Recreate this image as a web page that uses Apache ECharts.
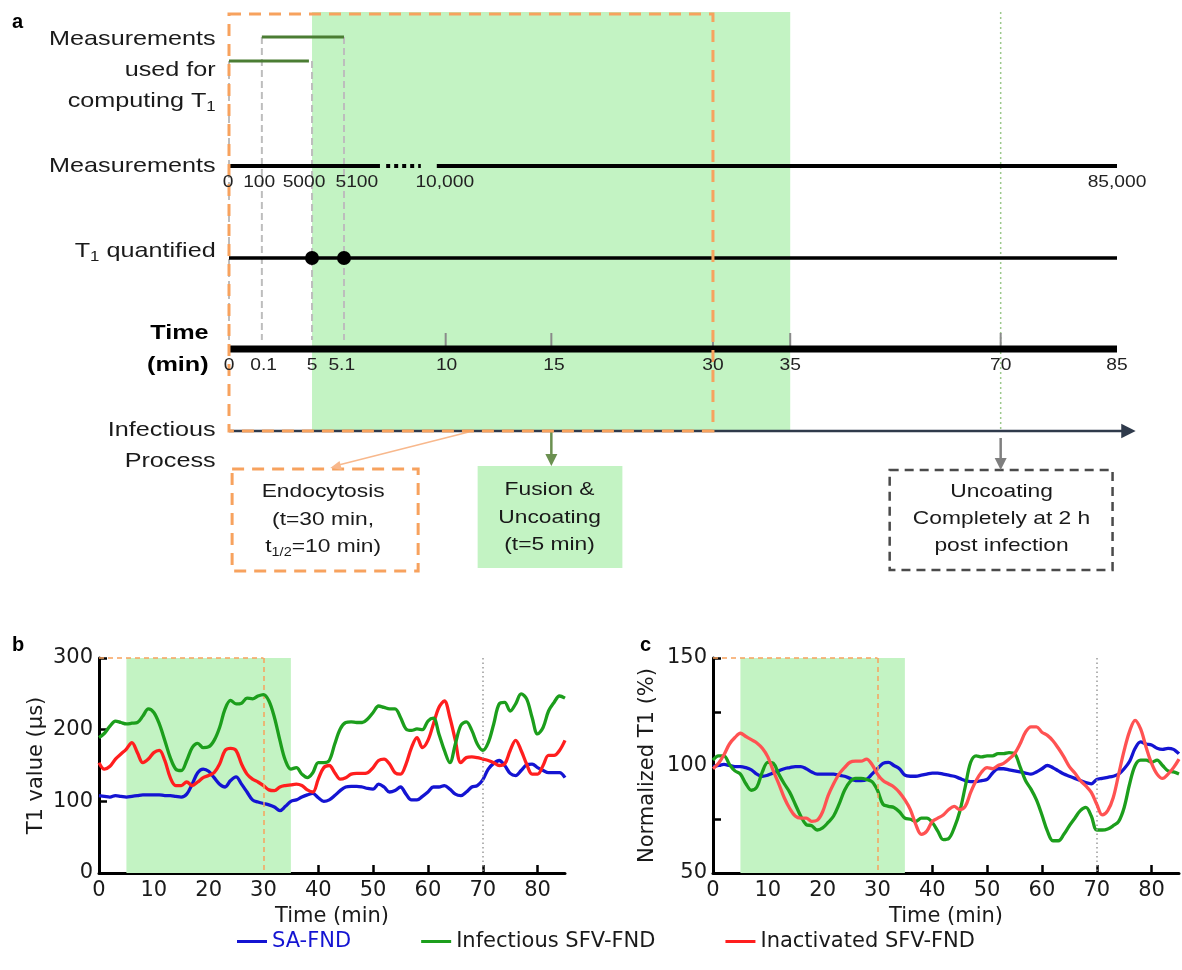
<!DOCTYPE html>
<html><head><meta charset="utf-8">
<script src="https://cdn.jsdelivr.net/npm/echarts@6/dist/echarts.min.js"></script>
<style>html,body{margin:0;padding:0;background:#fff}#c{width:1182px;height:970px}</style>
</head><body><div id="c"></div>
<script>
// ---------------- DATA ----------------
const minutes = Array.from({length: 86}, (_, i) => i);
const timeTickLabels = [0, 10, 20, 30, 40, 50, 60, 70, 80];

// Panel b: T1 value (µs)
const saT1 = [108,107,106,108,107,106,107,108,109,109,109,109,108,108,107,106,110,124,140,145,142,133,124,120,129,134,124,113,102,99,97,95,92,87,93,100,102,106,109,111,105,100,102,108,115,120,121,121,120,118,117,124,120,113,115,120,110,102,102,107,113,120,120,122,117,110,108,113,120,122,130,145,153,157,150,139,136,143,151,152,147,143,140,140,140,133];
const infT1 = [189,195,205,212,210,208,209,210,219,229,224,208,185,161,145,143,157,175,181,175,176,185,203,229,241,236,237,244,243,247,249,240,217,185,157,145,147,138,133,140,154,154,157,180,201,210,211,210,210,215,224,233,231,229,229,217,201,199,201,200,212,216,194,171,154,180,206,211,199,180,171,182,208,236,238,226,236,250,243,217,194,203,226,238,247,244];
const inaT1 = [154,145,149,159,166,173,182,168,154,159,168,171,157,133,122,122,127,122,127,133,136,140,152,171,174,171,152,138,131,127,122,116,115,120,122,123,124,122,116,113,131,147,150,140,131,133,138,139,139,140,147,157,159,152,140,138,152,175,189,175,185,208,231,240,217,185,154,161,162,161,159,157,154,150,152,171,185,171,152,138,138,150,164,164,171,185];

// Panel c: Normalized T1 (%)
const saNorm = [99.5,100,100.5,100,99.5,99.5,99,98,96,95,95.5,96.5,97.5,98.5,99,99.5,99.5,98.5,97,96,96,96,96,95.5,95,94,93,93,93.5,96,98.5,101,101.5,100,98.5,95.5,95,95,95.5,96,96.5,96.5,96,95.5,95,94,93,92.5,92.5,93,93.5,96.5,98.5,98.5,98,97.5,97,96.5,96,97,98.5,100,99,97.5,96,95,94,93,92,91.5,93.5,94,94.5,95,96,98.5,102,108,111,110,109.5,108,107.5,108,107.5,105.5];
const infNorm = [102.5,104.5,104.5,100.5,97.5,96,91.5,88.5,90,97,101.5,101,96,91.5,87.5,82,76.5,72.5,72,70,71,73.5,76.5,82,88.5,92.5,94,94,93.5,92.5,88.5,82,81,80.5,78.5,75.5,75,74,75.5,75.5,73.5,69.5,65.5,66,71,78.5,90,101.5,104.5,104,104.5,104.5,105.5,105.5,106,105.5,99.5,93,89,84,77,69.5,65,65,68,72,75.5,79,80.5,76.5,70,70,70.5,72,74,80.5,91.5,100,102.5,102.5,101.5,102.5,100,97.5,97,96];
const inaNorm = [98.5,101,105,110,113,115,113.5,112,110.5,108,104,97.5,91.5,85,80,76.5,75.5,75.5,74,74.5,78.5,86,91.5,96,99,101.5,102,102,103,100.5,96,93,91.5,90,87.5,84,79.5,72.5,68,69.5,74,75.5,77,79.5,81,79.5,81,87.5,93,97,99,98.5,100,101,103,105.5,110,115.5,118,118,115.5,114,111.5,108,104,99.5,96.5,93,90.5,87.5,82,77,79,85,96,107,116,121,117,108.5,101,96,94,96,99,103];

const seriesNames = ['SA-FND', 'Infectious SFV-FND', 'Inactivated SFV-FND'];

// Panel a: schematic timeline (positions along the schematic axis, 0..100)
const timelineLabels = ['0','0.1','5','5.1','10','15','30','35','70','85'];
const timelineSpots  = [0, 3.7, 9.35, 12.95, 24.4, 36.3, 54.5, 63.2, 86.9, 100];
const timelineLabelSpots = [0, 3.9, 9.35, 12.7, 24.5, 36.6, 54.5, 63.2, 86.9, 100];
const timelineTicked = ['10','15','30','35','70'];
const measurementLabels = ['0','100','5000','5100','10,000','85,000'];
const measurementSpots  = [-0.1, 3.4, 8.45, 14.4, 24.3, 100];
const windowSpans = [[0, 9.0], [3.7, 12.95]];      // measurement windows used for T1
const quantifiedSpots = [9.35, 12.95];              // T1 quantified points
const fusionSpan = [9.35, 63.2];                    // 5 -> 35 min
const endocytosisSpan = [0, 54.5];                  // 0 -> 30 min
const uncoatingSpot = 86.9;                         // 70 min

// ---------------- STYLE ----------------
const FONT = '"Liberation Sans", Arial, sans-serif';
const FONT_B = '"DejaVu Sans", "Liberation Sans", sans-serif';
const SX = 1.2; // horizontal stretch of the schematic's lettering
const C_BLUE = '#1414d2', C_GREEN = '#1c9e1c', C_RED = '#ff1e1e', C_RED_C = '#ff5252';
const C_FILL = '#c3f3c3', C_ORANGE = '#f7a25e';
const C_TEXT = '#1a1a1a';

const chart = echarts.init(document.getElementById('c'), null, {renderer: 'canvas'});

function valueXAxis(grid) {
  return {
    gridIndex: grid, type: 'value', min: 0, max: 85, interval: 10,
    name: 'Time (min)', nameLocation: 'middle', nameGap: 33,
    nameTextStyle: {fontSize: 21, color: C_TEXT, fontFamily: FONT_B},
    axisLine: {onZero: false, lineStyle: {color: '#000', width: 3}},
    axisTick: {inside: true, length: 8, lineStyle: {color: '#000', width: 2.5},
      customValues: timeTickLabels},
    axisLabel: {fontSize: 21, color: C_TEXT, fontFamily: FONT_B, margin: 7,
      customValues: timeTickLabels},
    splitLine: {show: false}
  };
}

function overlay(grid, yMin, yMax) {
  return {
    type: 'line', xAxisIndex: grid, yAxisIndex: grid, data: [], z: 1, silent: true,
    markArea: {silent: true, itemStyle: {color: C_FILL, opacity: 1},
      data: [[{coord: [5, yMin]}, {coord: [35, yMax]}]]},
    markLine: {silent: true, symbol: 'none', label: {show: false},
      data: [
        [{coord: [0, yMax], lineStyle: {color: C_ORANGE, type: [5, 4], width: 1.5}}, {coord: [30, yMax]}],
        [{coord: [30, yMax], lineStyle: {color: C_ORANGE, type: [5, 4], width: 1.5}}, {coord: [30, yMin]}],
        [{coord: [70, yMax], lineStyle: {color: '#9a9a9a', type: [1.5, 3], width: 1.5}}, {coord: [70, yMin]}]
      ]}
  };
}

function dataSeries(grid, name, vals, color, z) {
  return {
    type: 'line', name, xAxisIndex: grid, yAxisIndex: grid, z,
    data: minutes.map((t, i) => [t, vals[i]]),
    smooth: 0.35, showSymbol: false, symbol: 'none',
    lineStyle: {color, width: 3.3}, itemStyle: {color}
  };
}

const option = {
  animation: false,
  backgroundColor: '#fff',
  textStyle: {fontFamily: FONT_B},
  grid: [
    {left: 229, right: 65, top: 0, bottom: 0},
    {left: 99, width: 466, top: 658, height: 215},
    {left: 713, width: 466, top: 658, height: 215}
  ],
  xAxis: [
    {gridIndex: 0, type: 'value', min: 0, max: 100, show: false},
    valueXAxis(1),
    valueXAxis(2)
  ],
  yAxis: [
    {gridIndex: 0, type: 'value', min: 0, max: 970, inverse: true, show: false},
    {gridIndex: 1, type: 'value', min: 0, max: 300, interval: 100,
      name: 'T1 value (µs)', nameLocation: 'middle', nameGap: 52,
      nameTextStyle: {fontSize: 21, color: C_TEXT, fontFamily: FONT_B},
      axisLine: {show: true, onZero: false, lineStyle: {color: '#000', width: 3}},
      axisTick: {show: true, inside: true, length: 8, lineStyle: {color: '#000', width: 2.5}},
      axisLabel: {fontSize: 21, color: C_TEXT, fontFamily: FONT_B, margin: 6},
      splitLine: {show: false}},
    {gridIndex: 2, type: 'value', min: 50, max: 150, interval: 25,
      name: 'Normalized T1 (%)', nameLocation: 'middle', nameGap: 55,
      nameTextStyle: {fontSize: 21, color: C_TEXT, fontFamily: FONT_B},
      axisLine: {show: true, onZero: false, lineStyle: {color: '#000', width: 3}},
      axisTick: {show: true, inside: true, length: 8, lineStyle: {color: '#000', width: 2.5}},
      axisLabel: {fontSize: 21, color: C_TEXT, fontFamily: FONT_B, margin: 6,
        formatter: v => (v % 50 === 0 ? String(v) : '')},
      splitLine: {show: false}}
  ],
  legend: {
    top: 926, left: 232, icon: 'rect', itemWidth: 30, itemHeight: 3, itemGap: 70,
    textStyle: {fontSize: 21, color: C_TEXT, fontFamily: FONT_B},
    data: [{name: seriesNames[0], textStyle: {color: C_BLUE}}, seriesNames[1], seriesNames[2]]
  },
  series: [
    overlay(1, 0, 300),
    dataSeries(1, seriesNames[0], saT1, C_BLUE, 3),
    dataSeries(1, seriesNames[2], inaT1, C_RED, 4),
    dataSeries(1, seriesNames[1], infT1, C_GREEN, 5),
    overlay(2, 50, 150),
    dataSeries(2, seriesNames[0], saNorm, C_BLUE, 3),
    dataSeries(2, seriesNames[1], infNorm, C_GREEN, 4),
    dataSeries(2, seriesNames[2], inaNorm, C_RED_C, 5)
  ]
};
chart.setOption(option);

// ---------------- Panel a (schematic) via the hidden grid's scales ----------------
const ROW = {top: 12, box: 14, winB: 37, winA: 61, meas: 166, measLbl: 183, t1: 258, gridBottom: 340,
             tickTop: 333, time: 349, timeLbl: 366, proc: 431};
const P = (x, y) => chart.convertToPixel({gridIndex: 0}, [x, y]);
const g = [];
function seg(x1, y1, x2, y2, style, z) {
  const a = P(x1, y1), b = P(x2, y2);
  g.push({type: 'line', z: z || 10, shape: {x1: a[0], y1: a[1], x2: b[0], y2: b[1]}, style});
}
function box(x1, y1, x2, y2, style, z) {
  const a = P(x1, y1), b = P(x2, y2);
  g.push({type: 'rect', z: z || 10, shape: {x: a[0], y: a[1], width: b[0] - a[0], height: b[1] - a[1]}, style});
}
function txt(x, y, text, style) {
  const a = P(x, y);
  g.push({type: 'text', z: 20, x: a[0], y: a[1], scaleX: SX,
    style: Object.assign({text, fill: C_TEXT, font: '21px ' + FONT, align: 'center', verticalAlign: 'middle'}, style)});
}
function arrowHead(x, y, dir, size, color) {
  const a = P(x, y); const s = size;
  let pts;
  if (dir === 'right') pts = [[a[0], a[1]], [a[0] - s * 1.2, a[1] - s * 0.6], [a[0] - s * 1.2, a[1] + s * 0.6]];
  else if (dir === 'down') pts = [[a[0], a[1]], [a[0] - s * 0.6, a[1] - s * 1.2], [a[0] + s * 0.6, a[1] - s * 1.2]];
  else {
    const b = P(dir[0], dir[1]);
    const dx = a[0] - b[0], dy = a[1] - b[1]; const L = Math.hypot(dx, dy); const ux = dx / L, uy = dy / L;
    pts = [[a[0], a[1]], [a[0] - ux * s * 1.2 - uy * s * 0.5, a[1] - uy * s * 1.2 + ux * s * 0.5],
           [a[0] - ux * s * 1.2 + uy * s * 0.5, a[1] - uy * s * 1.2 - ux * s * 0.5]];
  }
  g.push({type: 'polygon', z: 12, shape: {points: pts}, style: {fill: color}});
}

// shaded fusion region
box(fusionSpan[0], ROW.top, fusionSpan[1], ROW.proc, {fill: C_FILL}, 1);
// dotted green line at 70 min
seg(uncoatingSpot, ROW.top, uncoatingSpot, ROW.proc, {stroke: '#9cc98c', lineWidth: 1.5, lineDash: [2, 3]}, 2);
// grey dashed guides
[[0, ROW.winA], [3.7, ROW.winB], [9.35, ROW.winA], [12.95, ROW.winB]].forEach(([x, y]) =>
  seg(x, y, x, ROW.gridBottom, {stroke: '#bdbdbd', lineWidth: 2, lineDash: [7, 4]}, 3));
// measurement windows
seg(windowSpans[0][0], ROW.winA, windowSpans[0][1], ROW.winA, {stroke: '#4b7d33', lineWidth: 3}, 5);
seg(windowSpans[1][0], ROW.winB, windowSpans[1][1], ROW.winB, {stroke: '#4b7d33', lineWidth: 3}, 5);
// measurements row
seg(0, ROW.meas, 17.0, ROW.meas, {stroke: '#000', lineWidth: 4}, 5);
seg(17.7, ROW.meas, 21.6, ROW.meas, {stroke: '#000', lineWidth: 4, lineDash: [4, 4]}, 5);
seg(23.4, ROW.meas, 100, ROW.meas, {stroke: '#000', lineWidth: 4}, 5);
measurementLabels.forEach((l, i) => txt(measurementSpots[i], ROW.measLbl, l, {font: '16px ' + FONT, fill: '#222'}));
// T1 quantified row
seg(0, ROW.t1, 100, ROW.t1, {stroke: '#000', lineWidth: 3.5}, 5);
quantifiedSpots.forEach(x => { const a = P(x, ROW.t1);
  g.push({type: 'circle', z: 8, shape: {cx: a[0], cy: a[1], r: 7}, style: {fill: '#000'}}); });
// time axis
timelineLabels.forEach((l, i) => {
  if (timelineTicked.includes(l)) seg(timelineSpots[i], ROW.tickTop, timelineSpots[i], ROW.time - 3, {stroke: '#8a8a8a', lineWidth: 2}, 6);
  txt(timelineLabelSpots[i], ROW.timeLbl, l, {font: '16px ' + FONT, fill: '#222'});
});
seg(0, ROW.time, 100, ROW.time, {stroke: '#000', lineWidth: 7}, 7);
// infectious process arrow
seg(0, ROW.proc, 100.8, ROW.proc, {stroke: '#2f3a4b', lineWidth: 2.5}, 6);
arrowHead(102.1, ROW.proc, 'right', 12, '#2f3a4b');
// orange dashed endocytosis frame
box(endocytosisSpan[0], ROW.box, endocytosisSpan[1], ROW.proc, {fill: null, stroke: C_ORANGE, lineWidth: 3, lineDash: [12, 8]}, 9);

// left row labels
const lx = -1.5;
const RL = {align: 'right', font: '21px ' + FONT};
const subRich = {n: {fontSize: 21, lineHeight: 26, fontFamily: FONT}, s: {fontSize: 14, lineHeight: 14, verticalAlign: 'bottom', fontFamily: FONT}};
txt(lx, 39, 'Measurements', RL);
txt(lx, 70, 'used for', RL);
txt(lx, 101, '{n|computing T}{s|1}', {align: 'right', font: '21px ' + FONT, rich: subRich});
txt(lx, 166, 'Measurements', RL);
txt(lx, 251, '{n|T}{s|1}{n| quantified}', {align: 'right', font: '21px ' + FONT, rich: subRich});
txt(-2.3, 333, 'Time', {align: 'right', font: 'bold 21px ' + FONT, fill: '#000'});
txt(-2.3, 365, '(min)', {align: 'right', font: 'bold 21px ' + FONT, fill: '#000'});
txt(lx, 430, 'Infectious', RL);
txt(lx, 461, 'Process', RL);

// pointer arrows
seg(27.0, ROW.proc + 1, 11.9, 466, {stroke: '#f8b88c', lineWidth: 1.5}, 6);
arrowHead(11.4, 468, [27.0, ROW.proc + 1], 9, '#f8b88c');
seg(36.3, ROW.proc + 1, 36.3, 456, {stroke: '#6b9050', lineWidth: 2.5}, 6);
arrowHead(36.3, 466, 'down', 10, '#6b9050');
seg(uncoatingSpot, 438, uncoatingSpot, 460, {stroke: '#7f7f7f', lineWidth: 2.5}, 6);
arrowHead(uncoatingSpot, 470, 'down', 10, '#7f7f7f');

// boxes
const BT = {font: '19px ' + FONT};
box(0.35, 469, 21.3, 571, {fill: null, stroke: C_ORANGE, lineWidth: 3, lineDash: [12, 8]}, 9);
txt(10.6, 492, 'Endocytosis', BT);
txt(10.6, 520, '(t=30 min,', BT);
txt(10.6, 547, '{n|t}{s|1/2}{n|=10 min)}', {font: '19px ' + FONT,
  rich: {n: {fontSize: 19, lineHeight: 24, fontFamily: FONT}, s: {fontSize: 12, lineHeight: 12, verticalAlign: 'bottom', fontFamily: FONT}}});
box(28.0, 466, 44.3, 568, {fill: C_FILL}, 4);
txt(36.1, 490, 'Fusion &', BT);
txt(36.1, 518, 'Uncoating', BT);
txt(36.1, 545, '(t=5 min)', BT);
box(74.4, 470, 99.5, 570, {fill: null, stroke: '#4a4a4a', lineWidth: 2.5, lineDash: [9, 6]}, 9);
txt(87.0, 492, 'Uncoating', BT);
txt(87.0, 519, 'Completely at 2 h', BT);
txt(87.0, 546, 'post infection', BT);

// panel letters
g.push({type: 'text', z: 20, x: 12, y: 22, style: {text: 'a', font: 'bold 20px ' + FONT, fill: '#000', verticalAlign: 'middle'}});
g.push({type: 'text', z: 20, x: 12, y: 645, style: {text: 'b', font: 'bold 20px ' + FONT, fill: '#000', verticalAlign: 'middle'}});
g.push({type: 'text', z: 20, x: 640, y: 645, style: {text: 'c', font: 'bold 20px ' + FONT, fill: '#000', verticalAlign: 'middle'}});

chart.setOption({graphic: g});
</script>
</body></html>
